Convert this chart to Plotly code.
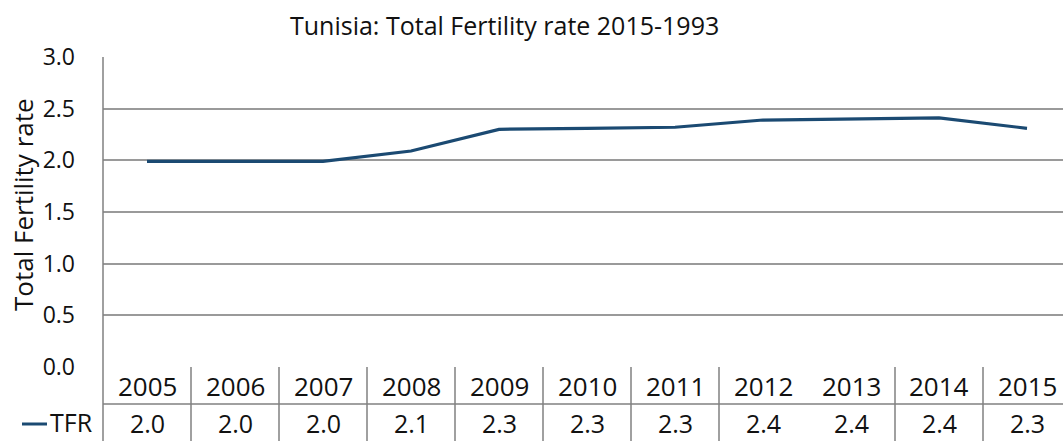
import plotly.graph_objects as go

years = ["2005", "2006", "2007", "2008", "2009", "2010", "2011", "2012", "2013", "2014", "2015"]
tfr = [1.99, 1.99, 1.99, 2.09, 2.30, 2.31, 2.32, 2.39, 2.40, 2.41, 2.31]
y_ticks = [0.0, 0.5, 1.0, 1.5, 2.0, 2.5, 3.0]

W, H = 1063, 441
L, T, B = 103, 57, 367           # plot area pixels
PLOT_H = B - T
FONT = "Open Sans"
TXT = "#111111"
LINE_COLOR = "#1b4a72"
GRID = "#9a9a9a"
n = len(years)
xmax = n - 0.5 - 8 / 88.0       # plot extends a little past window edge

def py(p):                       # pixel y -> paper y
    return (B - p) / PLOT_H

def px(p):                       # pixel x -> paper x
    return (p - L) / (W - L)

fig = go.Figure()
fig.add_trace(go.Scatter(x=list(range(n)), y=tfr, mode="lines",
                         line=dict(color=LINE_COLOR, width=3.2),
                         hoverinfo="skip", showlegend=False))

ann = []
shapes = []
# table: header row + value row
for i, (yr, v) in enumerate(zip(years, tfr)):
    ann.append(dict(x=i, y=py(386), xref="x", yref="paper", text=yr, showarrow=False,
                    font=dict(family=FONT, size=26, color=TXT), xanchor="center", yanchor="middle"))
    ann.append(dict(x=i, y=py(423), xref="x", yref="paper", text=f"{v:.1f}", showarrow=False,
                    font=dict(family=FONT, size=25, color=TXT), xanchor="center", yanchor="middle"))
for i in range(n - 1):
    if i == 7:
        continue  # no separator between 2012 and 2013 in reference
    shapes.append(dict(type="line", xref="x", yref="paper", x0=i + 0.5, x1=i + 0.5,
                       y0=0, y1=py(445), line=dict(color="#808080", width=1.5)))
shapes.append(dict(type="line", xref="paper", yref="paper", x0=0, x1=1.01,
                   y0=py(404), y1=py(404), line=dict(color="#808080", width=1.5)))
shapes.append(dict(type="line", xref="paper", yref="paper", x0=0, x1=0,
                   y0=py(T), y1=py(445), line=dict(color="#808080", width=1.5)))
# legend key in table
shapes.append(dict(type="line", xref="paper", yref="paper", x0=px(22), x1=px(47),
                   y0=py(424), y1=py(424), line=dict(color=LINE_COLOR, width=3)))
ann.append(dict(x=px(48), y=py(422), xref="paper", yref="paper", text="TFR", showarrow=False,
                font=dict(family=FONT, size=25, color=TXT), xanchor="left", yanchor="middle"))
# title
ann.append(dict(x=px(504), y=py(25), xref="paper", yref="paper",
                text="Tunisia: Total Fertility rate 2015-1993", showarrow=False,
                font=dict(family=FONT, size=25, color=TXT), xanchor="center", yanchor="middle"))
# y title
ann.append(dict(x=px(23), y=py(205), xref="paper", yref="paper", text="Total Fertility rate",
                showarrow=False, textangle=-90,
                font=dict(family=FONT, size=26, color=TXT), xanchor="center", yanchor="middle"))

fig.update_layout(
    width=W, height=H,
    margin=dict(l=L, r=0, t=T, b=H - B, pad=0),
    plot_bgcolor="white", paper_bgcolor="white",
    xaxis=dict(range=[-0.5, xmax], showticklabels=False, showgrid=False, zeroline=False,
               showline=False, fixedrange=True),
    yaxis=dict(range=[0, 3], tickvals=y_ticks, ticktext=[f"{v:.1f}" for v in y_ticks],
               showgrid=True, gridcolor=GRID, gridwidth=1.5, zeroline=False,
               showline=False, ticks="", ticklabelstandoff=27,
               tickfont=dict(family=FONT, size=23, color=TXT)),
    annotations=ann, shapes=shapes,
)

fig.write_html("out.html", config={"displayModeBar": False},
               post_script="document.body.style.margin='0';document.body.style.overflow='hidden';")
